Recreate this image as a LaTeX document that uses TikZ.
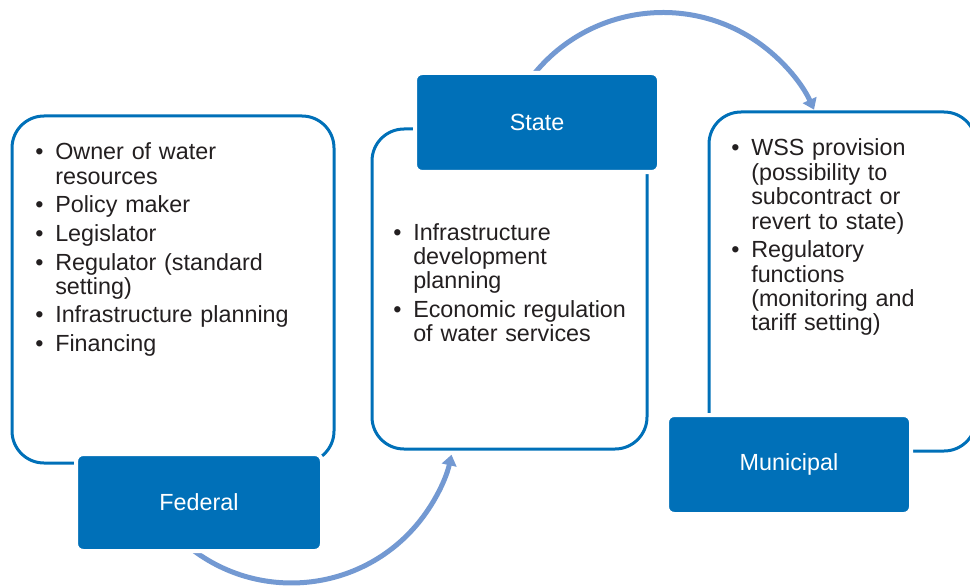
\documentclass[tikz,border=0pt]{standalone}
\usepackage{fontspec}
\setmainfont{Liberation Sans}
\usetikzlibrary{fit,arrows.meta}
\definecolor{boxblue}{HTML}{0070B8}
\definecolor{arrblue}{HTML}{7399D2}
\definecolor{txtgray}{HTML}{231F20}
\newcommand\bitem[1]{\hangindent=15pt\hangafter=1\noindent\makebox[15pt][l]{•}#1\par}
\newcommand\bgap{\vspace{3.1pt}}
\begin{document}
\begin{tikzpicture}[x=0.75pt,y=-0.75pt,
  outline/.style={draw=boxblue, line width=2.25pt, rounded corners=24pt, inner sep=0pt},
  fillbox/.style={fill=boxblue, draw=white, line width=3pt, rounded corners=5.5pt, inner sep=0pt},
  boxlabel/.style={text=white, font=\fontsize{17.5}{20}\selectfont},
  listtext/.style={anchor=base west, inner sep=0pt, text width=300pt, align=left,
    text=txtgray, font=\fontsize{17.5}{18.3}\selectfont},
  flow/.style={draw=arrblue, line width=3.75pt, -{Triangle[length=8pt,width=11pt]}}]
\useasboundingbox (0,0) rectangle (970,588);
\clip (0,0) rectangle (970,588);

% arrows (behind)
\coordinate (a1s) at (190.5,548.2);
\coordinate (a2s) at (530.4,78.6);
\draw[flow] (a1s) arc[start angle=128, end angle=12.6, radius=164];
\draw[flow] (a2s) arc[start angle=-143, end angle=-24.5, radius=166];

% outline boxes
\node[outline, fit={(12,116) (334,463)}] (fedbox) {};
\node[outline, fit={(372,129) (647,449)}] (statebox) {};
\node[outline, fit={(709,112) (976,451)}] (munbox) {};

% filled title boxes
\node[fillbox, fit={(76,454) (322,551)}] (fed) {};
\node[boxlabel] (fedl) at (fed.center) {Federal};
\node[fillbox, fit={(415,73) (659,172)}] (state) {};
\node[boxlabel] (statel) at (state.center) {State};
\node[fillbox, fit={(667,415) (911,514)}] (mun) {};
\node[boxlabel] (munl) at (mun.center) {Municipal};

% lists
\node[listtext] (fedlist) at (35,160) {%
\bitem{Owner of water\newline resources}\bgap
\bitem{Policy maker}\bgap
\bitem{Legislator}\bgap
\bitem{Regulator (standard\newline setting)}\bgap
\bitem{Infrastructure planning}\bgap
\bitem{Financing}};
\node[listtext] (statelist) at (393,240) {%
\bitem{Infrastructure\newline development\newline planning}\bgap
\bitem{Economic regulation\newline of water services}};
\node[listtext] (munlist) at (731,156) {%
\bitem{WSS provision\newline (possibility to\newline subcontract or\newline revert to state)}\bgap
\bitem{Regulatory\newline functions\newline (monitoring and\newline tariff setting)}};
\end{tikzpicture}
\end{document}
